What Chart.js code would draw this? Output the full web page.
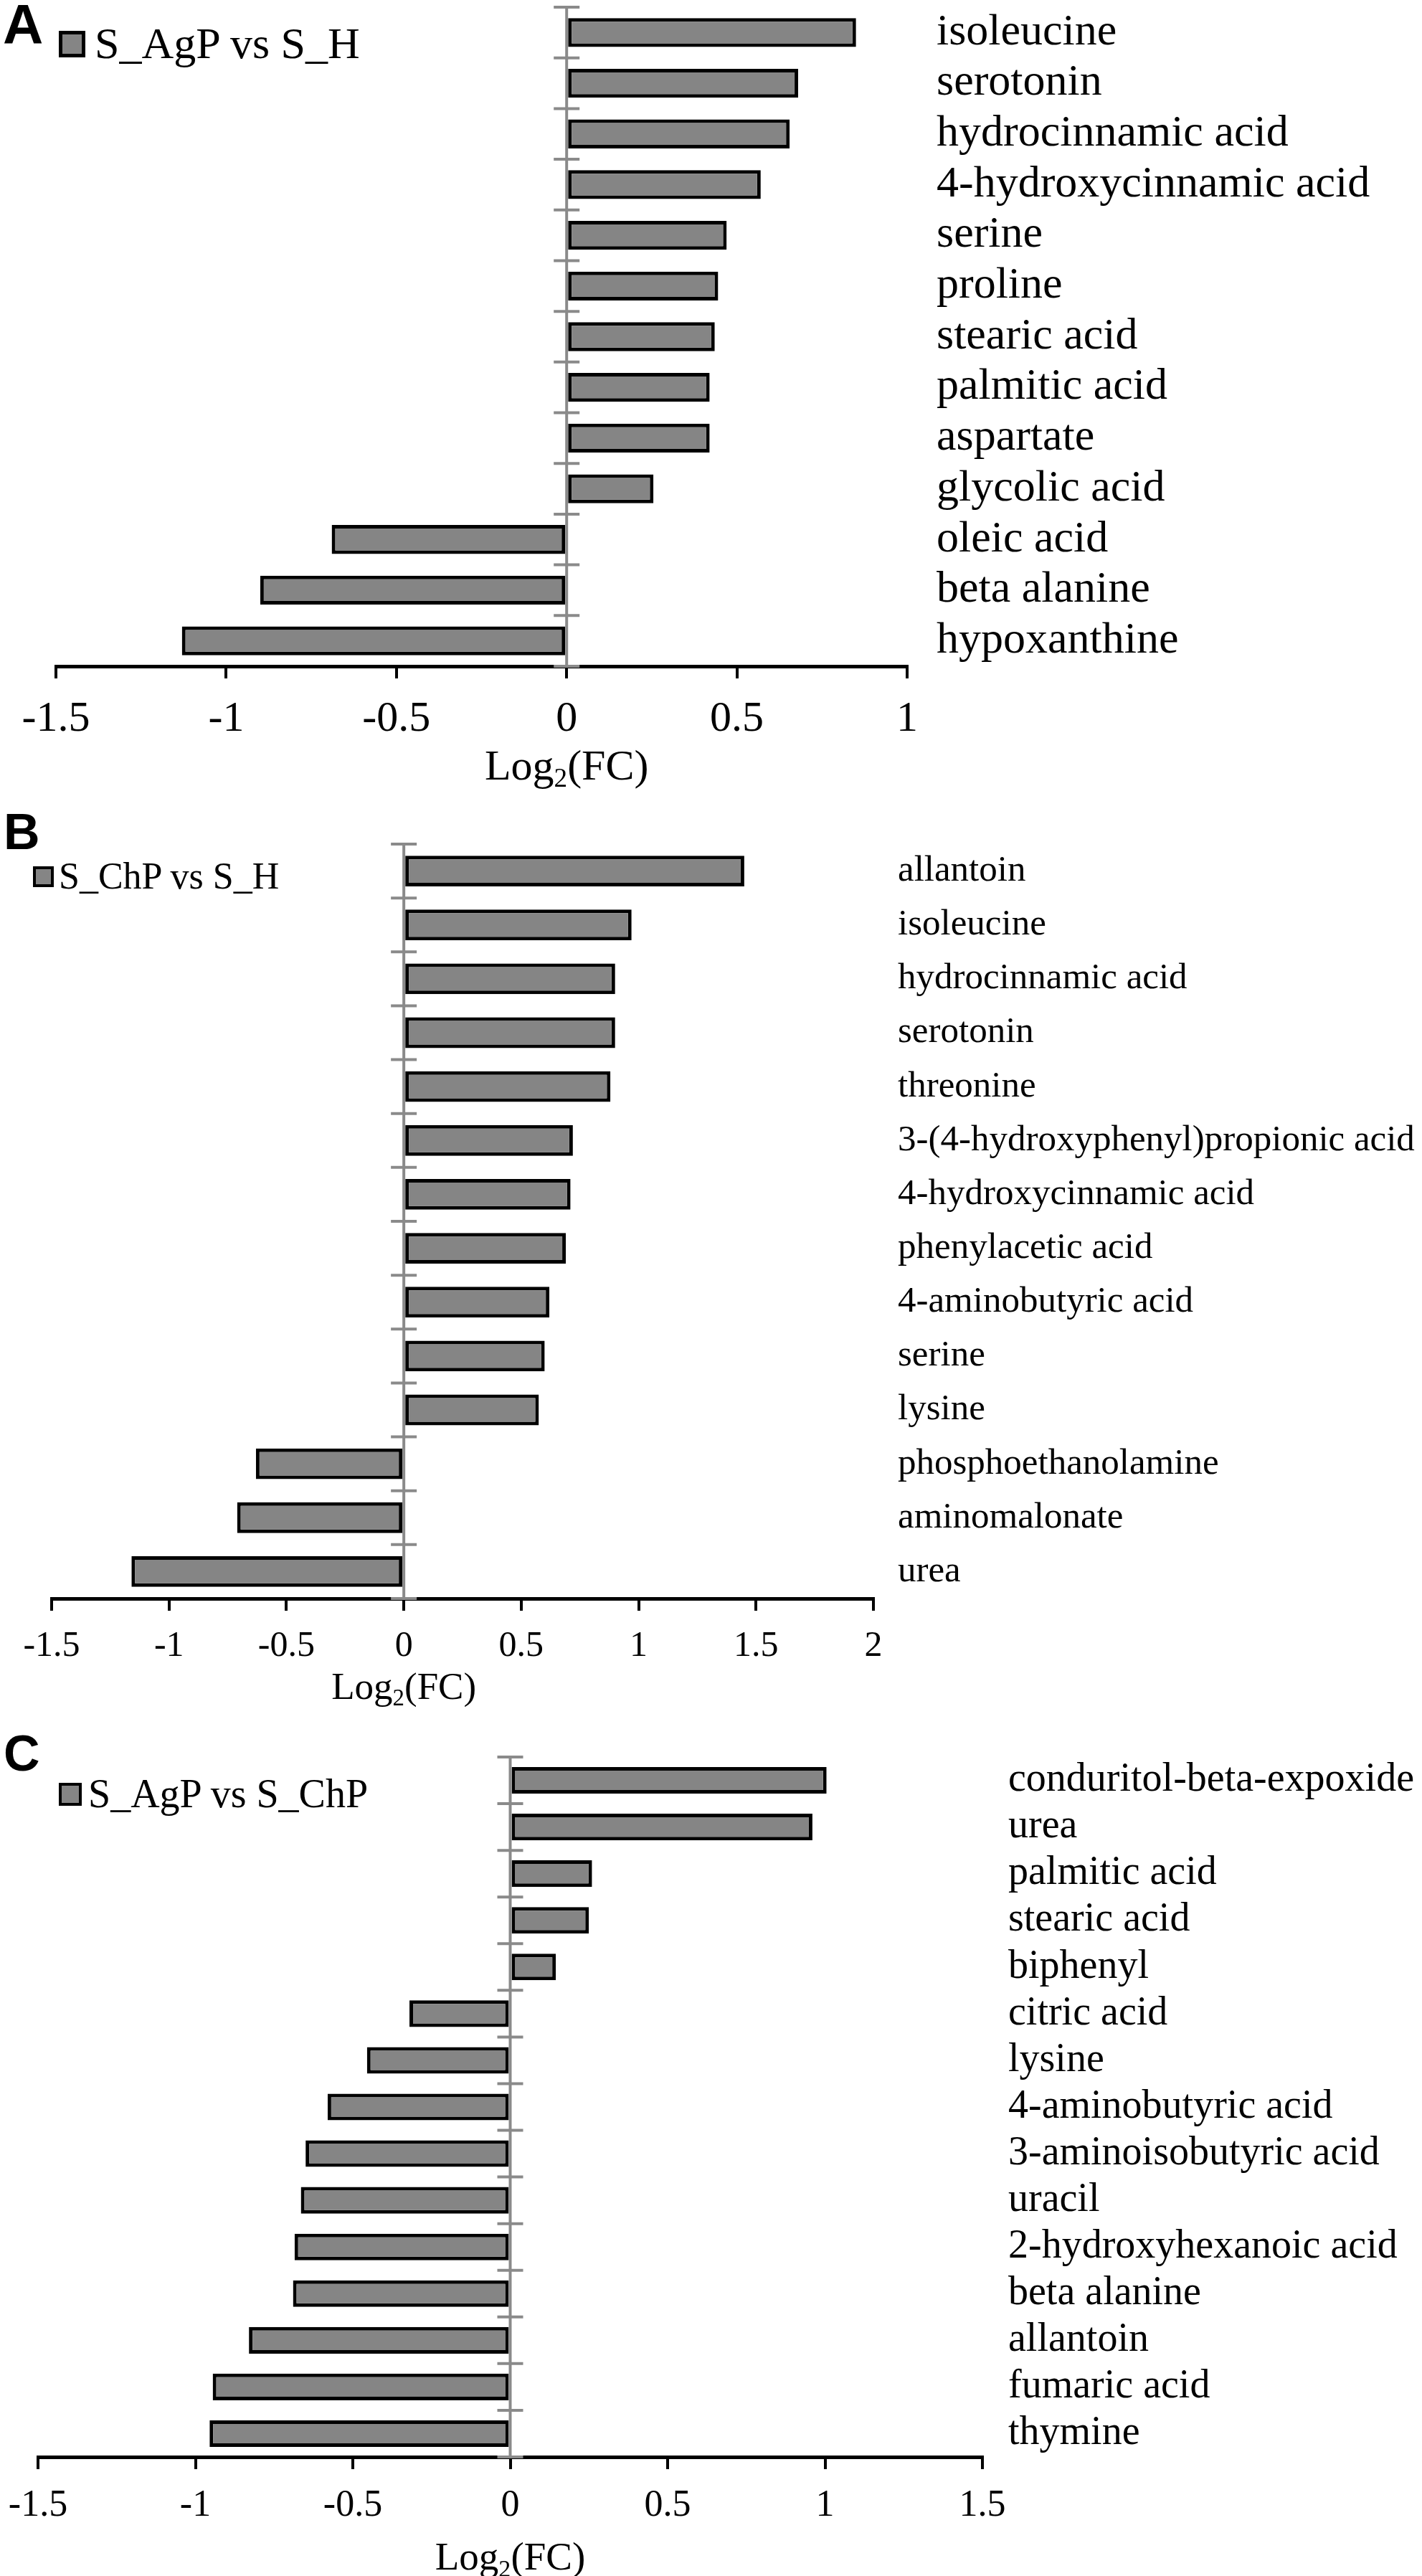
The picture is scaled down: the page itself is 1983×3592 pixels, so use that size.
<!DOCTYPE html>
<html>
<head>
<meta charset="utf-8">
<title>Log2(FC) bar charts</title>
<script src="https://cdn.jsdelivr.net/npm/chart.js@4.4.1/dist/chart.umd.min.js"></script>
<style>
    html, body { margin: 0; padding: 0; background: #fff; }
    #page { position: relative; width: 1983px; height: 3592px; overflow: hidden; }
    canvas { position: absolute; left: 0; }
    .txt { position: absolute; white-space: nowrap; line-height: 1; color: #000;
           font-family: 'Liberation Serif', 'Times New Roman', serif; }
    .letter { font-family: 'Liberation Sans', Arial, sans-serif; font-weight: bold; }
    .key { position: absolute; background: #858585; border: 5px solid #000; box-sizing: border-box; }
    .axtitle { transform: translateX(-50%); }
    .axtitle sub { font-size: 0.62em; vertical-align: baseline; position: relative; top: 0.28em; }
</style>
</head>
<body>
<div id="page">
    <canvas id="chartA"></canvas>
    <canvas id="chartB"></canvas>
    <canvas id="chartC"></canvas>

    <div class="txt letter" style="left:4px; top:-5px; font-size:78px;">A</div>
    <div class="key" style="left:82px; top:43px; width:37px; height:37px;"></div>
    <div class="txt" id="seriesA" style="left:132px; top:29px; font-size:62px;"></div>
    <div class="txt axtitle" id="titleA" style="top:1037px; font-size:60px;">Log<sub>2</sub>(FC)</div>

    <div class="txt letter" style="left:5px; top:1125px; font-size:70px;">B</div>
    <div class="key" style="left:46px; top:1208px; width:29px; height:29px; border-width:4px;"></div>
    <div class="txt" id="seriesB" style="left:82px; top:1196px; font-size:52px;"></div>
    <div class="txt axtitle" id="titleB" style="top:2325px; font-size:53px;">Log<sub>2</sub>(FC)</div>

    <div class="txt letter" style="left:5px; top:2410px; font-size:70px;">C</div>
    <div class="key" style="left:82px; top:2486px; width:32px; height:32px; border-width:4px;"></div>
    <div class="txt" id="seriesC" style="left:123px; top:2473px; font-size:56px;"></div>
    <div class="txt axtitle" id="titleC" style="top:3537px; font-size:55px;">Log<sub>2</sub>(FC)</div>
</div>

<script>
// panel A: S_AgP vs S_H
const seriesA = 'S_AgP vs S_H';
const labelsA = ['isoleucine', 'serotonin', 'hydrocinnamic acid', '4-hydroxycinnamic acid', 'serine',
    'proline', 'stearic acid', 'palmitic acid', 'aspartate', 'glycolic acid', 'oleic acid',
    'beta alanine', 'hypoxanthine'];
const valuesA = [0.85, 0.68, 0.655, 0.57, 0.47, 0.445, 0.435, 0.42, 0.42, 0.255, -0.69, -0.90, -1.13];
const rangeA = [-1.5, 1];

// panel B: S_ChP vs S_H
const seriesB = 'S_ChP vs S_H';
const labelsB = ['allantoin', 'isoleucine', 'hydrocinnamic acid', 'serotonin', 'threonine',
    '3-(4-hydroxyphenyl)propionic acid', '4-hydroxycinnamic acid', 'phenylacetic acid',
    '4-aminobutyric acid', 'serine', 'lysine', 'phosphoethanolamine', 'aminomalonate', 'urea'];
const valuesB = [1.45, 0.97, 0.90, 0.90, 0.88, 0.72, 0.71, 0.69, 0.62, 0.60, 0.575, -0.63, -0.71, -1.16];
const rangeB = [-1.5, 2];

// panel C: S_AgP vs S_ChP
const seriesC = 'S_AgP vs S_ChP';
const labelsC = ['conduritol-beta-expoxide', 'urea', 'palmitic acid', 'stearic acid', 'biphenyl',
    'citric acid', 'lysine', '4-aminobutyric acid', '3-aminoisobutyric acid', 'uracil',
    '2-hydroxyhexanoic acid', 'beta alanine', 'allantoin', 'fumaric acid', 'thymine'];
const valuesC = [1.005, 0.96, 0.26, 0.25, 0.145, -0.32, -0.455, -0.58, -0.65, -0.665, -0.685, -0.69,
    -0.83, -0.945, -0.955];
const rangeC = [-1.5, 1.5];

const SERIF = "'Liberation Serif', 'Times New Roman', serif";
const PAGE_W = 1983;

// gray vertical axis at x = 0 with crossing tick marks between categories
const zeroLine = {
    id: 'zeroLine',
    afterDraw(chart) {
        const ctx = chart.ctx;
        const area = chart.chartArea;
        const x = chart.scales.x;
        const y = chart.scales.y;
        const x0 = x.getPixelForValue(0);
        ctx.save();
        ctx.strokeStyle = '#8a8a8a';
        ctx.lineWidth = 4;
        ctx.beginPath();
        ctx.moveTo(x0, area.top);
        ctx.lineTo(x0, area.bottom);
        ctx.stroke();
        const n = chart.data.labels.length;
        ctx.beginPath();
        for (let i = 0; i <= n; i++) {
            const yy = y.getPixelForValue(i - 0.5);
            ctx.moveTo(x0 - 18, yy);
            ctx.lineTo(x0 + 18, yy);
        }
        ctx.stroke();
        ctx.restore();
    }
};

function makeChart(id, labels, values, series, range, lay) {
    const canvas = document.getElementById('chart' + id);
    canvas.width = PAGE_W;
    canvas.height = lay.height;
    canvas.style.top = lay.top + 'px';
    document.getElementById('series' + id).textContent = series;

    const chart = new Chart(canvas, {
        type: 'bar',
        data: {
            labels: labels,
            datasets: [{
                label: series,
                data: values,
                backgroundColor: '#858585',
                borderColor: '#000',
                borderWidth: 5,
                borderSkipped: false,
                barPercentage: 0.57,
                categoryPercentage: 1
            }]
        },
        options: {
            indexAxis: 'y',
            responsive: false,
            animation: false,
            devicePixelRatio: 1,
            layout: {
                padding: { left: lay.left, top: lay.areaTop - lay.top, right: 0, bottom: 0 }
            },
            plugins: {
                legend: { display: false },
                tooltip: { enabled: false }
            },
            scales: {
                x: {
                    type: 'linear',
                    position: 'bottom',
                    min: range[0],
                    max: range[1],
                    ticks: {
                        stepSize: 0.5,
                        color: '#000',
                        font: { family: SERIF, size: lay.tickFont },
                        padding: lay.tickPad,
                        maxRotation: 0,
                        autoSkip: false,
                        callback: v => String(v)
                    },
                    grid: {
                        drawOnChartArea: false,
                        drawTicks: true,
                        tickLength: 17,
                        color: '#000',
                        lineWidth: 4
                    },
                    border: { display: true, color: '#000', width: 5 },
                    afterFit: s => {
                        s.height = lay.top + lay.height - lay.bottom;
                        s.paddingLeft = 0;
                        s.paddingRight = 0;
                    }
                },
                y: {
                    position: 'right',
                    ticks: {
                        color: '#000',
                        font: { family: SERIF, size: lay.labelFont },
                        padding: lay.labelPad,
                        autoSkip: false,
                        crossAlign: 'near'
                    },
                    grid: { display: false, drawTicks: false },
                    border: { display: false },
                    afterFit: s => {
                        s.width = PAGE_W - lay.right;
                        s.paddingTop = 0;
                        s.paddingBottom = 0;
                    }
                }
            }
        },
        plugins: [zeroLine]
    });

    // axis title is centred under the zero line
    const x0 = chart.scales.x.getPixelForValue(0);
    document.getElementById('title' + id).style.left = x0 + 'px';
    return chart;
}

function drawAll() {
    makeChart('A', labelsA, valuesA, seriesA, rangeA, {
        top: 0, height: 1110, left: 78, right: 1265, areaTop: 10, bottom: 929,
        tickFont: 60, tickPad: 21, labelFont: 62, labelPad: 41
    });
    makeChart('B', labelsB, valuesB, seriesB, rangeB, {
        top: 1110, height: 1290, left: 72, right: 1218, areaTop: 1177, bottom: 2229,
        tickFont: 50, tickPad: 20, labelFont: 51, labelPad: 34
    });
    makeChart('C', labelsC, valuesC, seriesC, rangeC, {
        top: 2400, height: 1192, left: 53, right: 1370, areaTop: 2450, bottom: 3426,
        tickFont: 52, tickPad: 20, labelFont: 56, labelPad: 36
    });
}

// make sure the serif face is ready before the canvases draw text
if (document.fonts && document.fonts.load) {
    document.fonts.load("60px 'Liberation Serif'").then(drawAll, drawAll);
} else {
    drawAll();
}
</script>
</body>
</html>
